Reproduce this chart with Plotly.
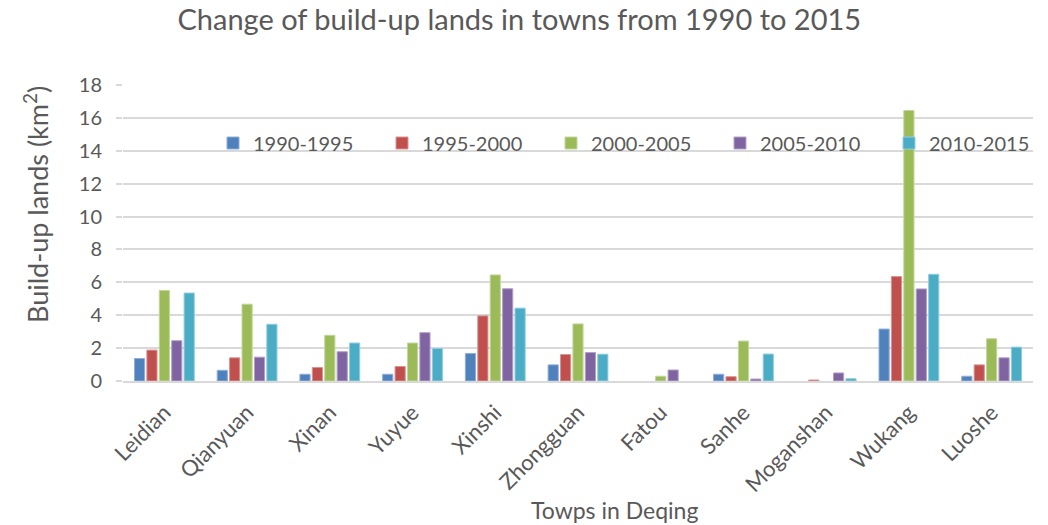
import plotly.graph_objects as go

towns = ["Leidian", "Qianyuan", "Xinan", "Yuyue", "Xinshi", "Zhongguan",
         "Fatou", "Sanhe", "Moganshan", "Wukang", "Luoshe"]
periods = ["1990-1995", "1995-2000", "2000-2005", "2005-2010", "2010-2015"]

v_1990_1995 = [1.37, 0.65, 0.41, 0.41, 1.67, 0.98, 0.0, 0.41, 0.0, 3.16, 0.29]
v_1995_2000 = [1.88, 1.41, 0.82, 0.88, 3.96, 1.61, 0.0, 0.26, 0.06, 6.35, 0.98]
v_2000_2005 = [5.51, 4.67, 2.78, 2.31, 6.45, 3.47, 0.29, 2.43, 0.0, 16.45, 2.57]
v_2005_2010 = [2.45, 1.45, 1.78, 2.94, 5.61, 1.73, 0.67, 0.12, 0.49, 5.60, 1.41]
v_2010_2015 = [5.35, 3.45, 2.31, 1.98, 4.43, 1.63, 0.0, 1.64, 0.14, 6.49, 2.06]

series = [v_1990_1995, v_1995_2000, v_2000_2005, v_2005_2010, v_2010_2015]
colors = ["#4F81BD", "#C0504D", "#9BBB59", "#8064A2", "#4BACC6"]
edge = ["#8FAFD8", "#D99492", "#C3D69B", "#B2A1C7", "#93CDDD"]

FONT = "Lato"
TXT = "#595959"

L, R, T, B = 123, 15, 85, 144
W, H = 1048, 525
PW = W - L - R

fig = go.Figure()
legend_cfg = {}
for i, (name, vals, c, e) in enumerate(zip(periods, series, colors, edge)):
    yv = [v if v > 0 else None for v in vals]
    lg = "legend" if i == 0 else f"legend{i + 1}"
    fig.add_trace(go.Bar(x=towns, y=yv, name=name, legend=lg, showlegend=True,
                         marker=dict(color=c, line=dict(color=e, width=1))))
    sq_center = 235 + 169 * i
    legend_cfg[lg] = dict(x=(sq_center - 22 - L) / PW, xanchor="left",
                          y=(381 - 143) / 296, yanchor="middle",
                          bgcolor="rgba(0,0,0,0)", borderwidth=0,
                          font=dict(size=20, color=TXT, family=FONT))

fig.update_layout(
    width=W, height=H, showlegend=True,
    paper_bgcolor="white", plot_bgcolor="white",
    margin=dict(l=L, r=R, t=T, b=B),
    barmode="group", bargap=0.25, bargroupgap=0.18,
    font=dict(family=FONT, color=TXT, size=18),
    title=dict(text="Change of build-up lands in towns from 1990 to 2015",
               x=0.4955, xanchor="center", y=0.962, yanchor="middle",
               font=dict(family=FONT, size=29, color=TXT)),
    xaxis=dict(showgrid=False, showline=True, linecolor="#D9D9D9", linewidth=2,
               tickangle=-45, tickfont=dict(size=22, color=TXT), ticks="",
               ticklabelstandoff=8, automargin=False),
    yaxis=dict(range=[0, 18], dtick=2, showgrid=True, gridcolor="#D9D9D9", gridwidth=1.5,
               zeroline=False, showline=False, ticks="outside", ticklen=6,
               tickcolor="#D9D9D9", tickwidth=1.5, ticklabelstandoff=10,
               tickfont=dict(size=20, color=TXT), automargin=False),
    annotations=[
        dict(text="Towps in Deqing", xref="paper", yref="paper",
             x=0.54, y=(381 - 510) / 296, xanchor="center", yanchor="middle",
             showarrow=False, font=dict(size=23, color=TXT)),
        dict(text="Build-up lands (km<sup>2</sup>)", xref="paper", yref="paper",
             x=(36 - L) / PW, y=(381 - 205) / 296, xanchor="center", yanchor="middle",
             textangle=-90, showarrow=False, font=dict(size=27, color=TXT)),
    ],
    **legend_cfg,
)

fig.write_html("out.html", post_script="document.body.style.margin='0';",
               config={"displayModeBar": False})
